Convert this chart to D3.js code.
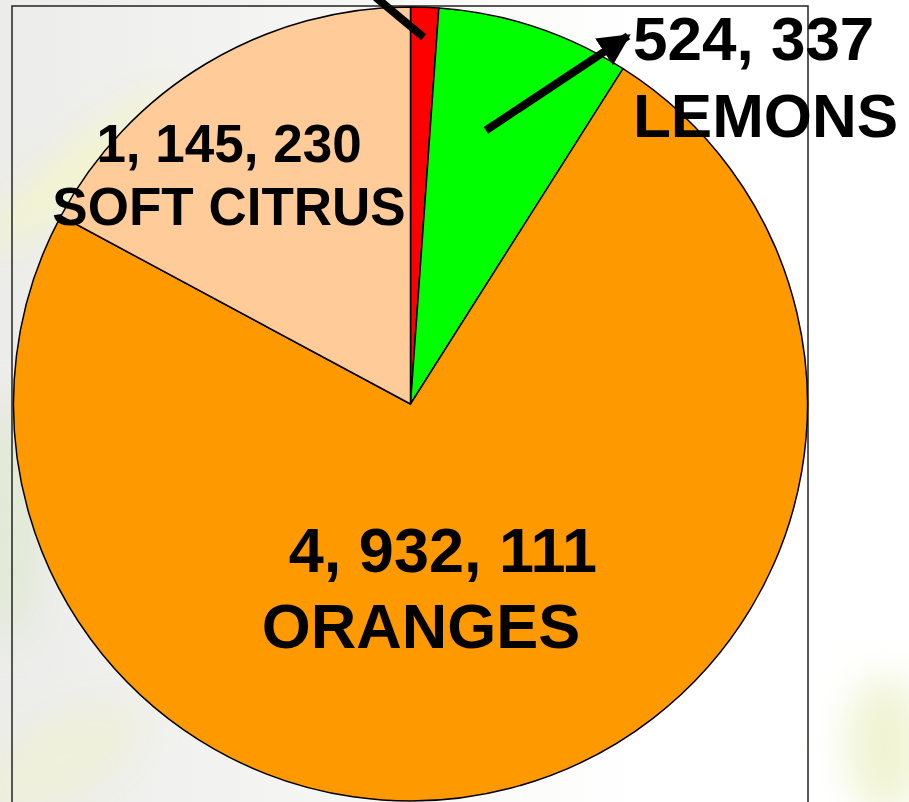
<!DOCTYPE html>
<html>
<head>
<meta charset="utf-8">
<script src="https://cdn.jsdelivr.net/npm/d3@7"></script>
<style>
  html, body { margin: 0; padding: 0; background: #fff; }
  svg { display: block; }
  text { font-family: "Liberation Sans", Arial, sans-serif; font-weight: bold; fill: #000; }
</style>
</head>
<body>
<div id="chart"></div>
<script>
// citrus crop, pie slices clockwise from 12 o'clock
var categories = ['GRAPEFRUIT', 'LEMONS', 'ORANGES', 'SOFT CITRUS'];
var values = [76000, 524337, 4932111, 1145230];
var valueLabels = ['76, 000', '524, 337', '4, 932, 111', '1, 145, 230'];
var colors = ['#ff0000', '#00ff00', '#ff9900', '#ffcc99'];

var W = 909, H = 802;
var cx = 410.5, cy = 404, R = 397;

var svg = d3.select('#chart').append('svg')
  .attr('width', W)
  .attr('height', H);

// slide background (soft photo-ish wash)
var defs = svg.append('defs');
var bg = defs.append('linearGradient').attr('id', 'bg')
  .attr('x1', 0).attr('y1', 0).attr('x2', 1).attr('y2', 0);
bg.append('stop').attr('offset', '0%').attr('stop-color', '#ececea');
bg.append('stop').attr('offset', '35%').attr('stop-color', '#f5f5f3');
bg.append('stop').attr('offset', '70%').attr('stop-color', '#ffffff');
bg.append('stop').attr('offset', '100%').attr('stop-color', '#ffffff');
defs.append('filter').attr('id', 'blur')
  .attr('x', '-50%').attr('y', '-50%').attr('width', '200%').attr('height', '200%')
  .append('feGaussianBlur').attr('stdDeviation', 18);
defs.append('marker').attr('id', 'head')
  .attr('viewBox', '0 0 10 10').attr('refX', 9).attr('refY', 5)
  .attr('markerWidth', 4).attr('markerHeight', 4)
  .attr('markerUnits', 'strokeWidth')
  .attr('orient', 'auto')
  .append('path').attr('d', 'M0,0 L10,5 L0,10 Z').attr('fill', '#000');

svg.append('rect').attr('width', W).attr('height', H).attr('fill', 'url(#bg)');
var wash = svg.append('g').attr('filter', 'url(#blur)');
wash.append('ellipse').attr('cx', 80).attr('cy', 170).attr('rx', 120).attr('ry', 22)
  .attr('transform', 'rotate(-40 80 170)').attr('fill', '#f3f5c8').attr('opacity', 0.9);
wash.append('ellipse').attr('cx', 10).attr('cy', 520).attr('rx', 30).attr('ry', 120)
  .attr('fill', '#dfe8cf').attr('opacity', 0.8);
wash.append('ellipse').attr('cx', 60).attr('cy', 760).attr('rx', 90).attr('ry', 40)
  .attr('transform', 'rotate(-30 60 760)').attr('fill', '#eef0d6').attr('opacity', 0.8);
wash.append('ellipse').attr('cx', 885).attr('cy', 745).attr('rx', 40).attr('ry', 70)
  .attr('fill', '#eef3cf').attr('opacity', 0.9);

// plot area frame
svg.append('rect')
  .attr('x', 12).attr('y', 6).attr('width', 796).attr('height', H)
  .attr('fill', 'none').attr('stroke', '#222').attr('stroke-width', 1.5);

var pie = d3.pie().sort(null).value(function(d){ return d; });
var arcs = pie(values);
var arc = d3.arc().innerRadius(0).outerRadius(R);

var g = svg.append('g').attr('transform', 'translate(' + cx + ',' + cy + ')');
g.selectAll('path.slice')
  .data(arcs)
  .enter()
  .append('path')
  .attr('class', 'slice')
  .attr('d', arc)
  .attr('fill', function(d, i){ return colors[i]; })
  .attr('stroke', '#000')
  .attr('stroke-width', 1.5)
  .attr('stroke-linejoin', 'round');

// leader for the tiny grapefruit slice (its label sits off the top of the slide)
var a0 = (arcs[0].startAngle + arcs[0].endAngle) / 2;
var p0 = [Math.sin(a0) * (R - 30), -Math.cos(a0) * (R - 30)];
g.append('line')
  .attr('x1', p0[0]).attr('y1', p0[1])
  .attr('x2', p0[0] - 48).attr('y2', p0[1] - 40)
  .attr('stroke', '#000').attr('stroke-width', 8);

// lemons arrow, starts inside the green slice a bit before its middle
var a1 = arcs[1].startAngle + (arcs[1].endAngle - arcs[1].startAngle) * 0.4;
var p1 = [Math.sin(a1) * (R * 0.715), -Math.cos(a1) * (R * 0.715)];
g.append('line')
  .attr('x1', p1[0]).attr('y1', p1[1])
  .attr('x2', 628 - cx).attr('y2', 36 - cy)
  .attr('stroke', '#000').attr('stroke-width', 8)
  .attr('marker-end', 'url(#head)');

// slice labels: value on first line, name on second
var labelPos = [
  null,
  { x: 633, y: 60, anchor: 'start', size: 62, gap: 77 },
  { x: 421, y: 572, anchor: 'middle', size: 63, gap: 76, dx: 22 },
  { x: 229, y: 162, anchor: 'middle', size: 53, gap: 63 }
];
categories.forEach(function(c, i){
  var p = labelPos[i];
  if (!p) return;
  svg.append('text')
    .attr('x', p.x + (p.dx || 0)).attr('y', p.y)
    .attr('text-anchor', p.anchor)
    .attr('font-size', p.size)
    .text(valueLabels[i]);
  svg.append('text')
    .attr('x', p.x).attr('y', p.y + p.gap)
    .attr('text-anchor', p.anchor)
    .attr('font-size', p.size)
    .text(c);
});
</script>
</body>
</html>
